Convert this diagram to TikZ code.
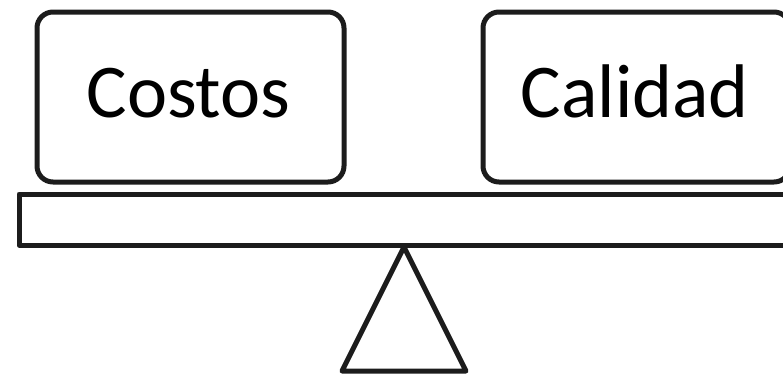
\documentclass[tikz,border=0pt]{standalone}
\usepackage{fontspec}
\setmainfont{Carlito}
\definecolor{linegray}{RGB}{28,28,28}
\begin{document}
\begin{tikzpicture}[x=1pt,y=-1pt,
  outline/.style={draw=linegray,line width=5pt,line join=round},
  boxshape/.style={outline,rounded corners=16pt},
  label/.style={font=\fontsize{76}{80}\selectfont,anchor=base,inner sep=0pt}]
\useasboundingbox (0,0) rectangle (783,378);
\clip (0,0) rectangle (783,378);
% boxes
\draw[boxshape] (37,12) rectangle (344,182);
\draw[boxshape] (483,12) rectangle (790,182);
\node[label] (costos) at (188.5,117) {Costos};
\node[label] (calidad) at (635,117) {Calidad};
% plank
\draw[outline] (19,194) rectangle (800,245);
% fulcrum
\coordinate (apex) at (404,247);
\coordinate (bl) at (342,371);
\coordinate (br) at (466,371);
\draw[outline] (apex) -- (bl) -- (br) -- cycle;
\end{tikzpicture}
\end{document}
